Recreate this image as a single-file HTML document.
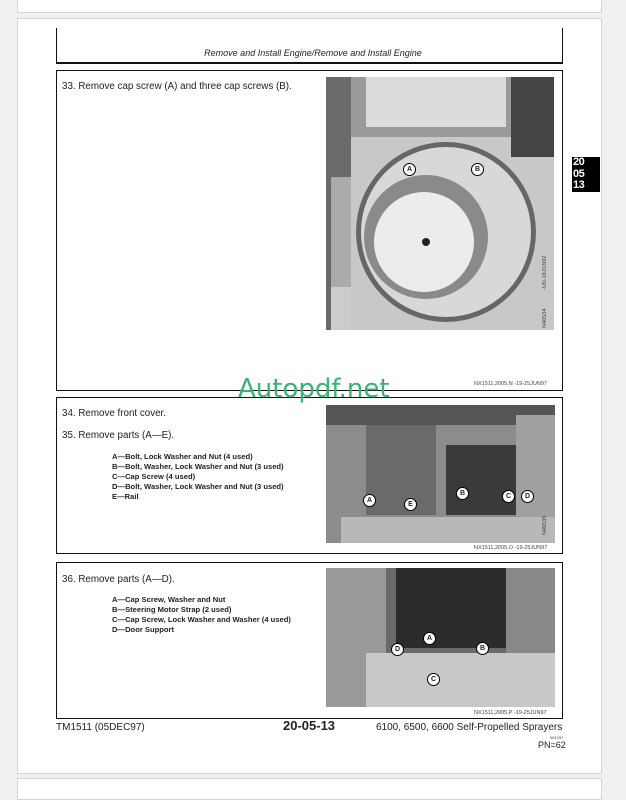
<!DOCTYPE html>
<html><head><style>
body{margin:0;width:626px;height:785px;background:#f1f1f1;position:relative;overflow:hidden;font-family:"Liberation Sans",sans-serif;color:#222}
.a{position:absolute}
.card{position:absolute;background:#fff;border:1px solid #d4d4d4}
.box{position:absolute;border:1.5px solid #111;box-sizing:border-box}
.t{position:absolute;font-size:9.8px;white-space:nowrap}
.b{position:absolute;font-size:7.6px;font-weight:bold;line-height:10px;white-space:nowrap}
.cap{position:absolute;font-size:5.5px;color:#444;white-space:nowrap}
.lbl{position:absolute;width:11px;height:11px;border:1px solid #000;border-radius:50%;background:#fff;font-size:7px;font-weight:bold;text-align:center;line-height:11px}
</style></head><body>
<div class="card" style="left:17px;top:-2px;width:583px;height:13px"></div>
<div class="card" style="left:17px;top:18px;width:583px;height:754px"></div>
<div class="card" style="left:17px;top:778px;width:583px;height:20px"></div>

<div class="a" style="left:56px;top:28px;width:1px;height:35px;background:#111"></div>
<div class="a" style="left:562px;top:28px;width:1px;height:35px;background:#111"></div>
<div class="a" style="left:56px;top:62px;width:507px;height:1.5px;background:#111"></div>
<div class="t" style="left:0;width:626px;text-align:center;top:48px;font-style:italic;font-size:9px">Remove and Install Engine/Remove and Install Engine</div>

<div class="box" style="left:56px;top:70px;width:507px;height:321px"></div>
<div class="t" style="left:62px;top:81px">33. Remove cap screw (A) and three cap screws (B).</div>
<svg class="a" style="left:326px;top:77px" width="228" height="253">
<rect width="228" height="253" fill="#c8c8c8"/>
<rect x="0" y="0" width="25" height="253" fill="#6a6a6a"/>
<rect x="25" y="0" width="160" height="60" fill="#9a9a9a"/>
<rect x="40" y="0" width="140" height="50" fill="#dcdcdc"/>
<rect x="185" y="0" width="43" height="80" fill="#444"/>
<rect x="5" y="100" width="20" height="110" fill="#aaa"/>
<circle cx="120" cy="155" r="90" fill="#666"/>
<circle cx="120" cy="155" r="85" fill="#d8d8d8"/>
<circle cx="100" cy="160" r="62" fill="#8a8a8a"/>
<circle cx="98" cy="165" r="50" fill="#ececec"/>
<circle cx="100" cy="165" r="4" fill="#222"/>
<rect x="5" y="210" width="20" height="43" fill="#ccc"/>
</svg>
<div class="lbl" style="left:403px;top:163px">A</div>
<div class="lbl" style="left:471px;top:163px">B</div>
<div class="cap" style="left:542px;top:290px;transform:rotate(-90deg);transform-origin:left top">-UN-18JUN92</div>
<div class="cap" style="left:542px;top:328px;transform:rotate(-90deg);transform-origin:left top">N46534</div>
<div class="cap" style="left:474px;top:381px">NX1511,2005,N -19-25JUN97</div>

<div class="box" style="left:56px;top:397px;width:507px;height:157px"></div>
<div class="t" style="left:62px;top:408px">34. Remove front cover.</div>
<div class="t" style="left:62px;top:430px">35. Remove parts (A—E).</div>
<div class="b" style="left:112px;top:452px">A—Bolt, Lock Washer and Nut (4 used)<br>B—Bolt, Washer, Lock Washer and Nut (3 used)<br>C—Cap Screw (4 used)<br>D—Bolt, Washer, Lock Washer and Nut (3 used)<br>E—Rail</div>
<svg class="a" style="left:326px;top:405px" width="229" height="138">
<rect width="229" height="138" fill="#8c8c8c"/>
<rect x="0" y="0" width="229" height="20" fill="#555"/>
<rect x="120" y="40" width="70" height="70" fill="#3a3a3a"/>
<rect x="40" y="20" width="70" height="90" fill="#6a6a6a"/>
<rect x="190" y="10" width="39" height="110" fill="#a0a0a0"/>
<rect x="15" y="112" width="214" height="26" fill="#b8b8b8"/>
</svg>
<div class="lbl" style="left:363px;top:494px">A</div>
<div class="lbl" style="left:404px;top:498px">E</div>
<div class="lbl" style="left:456px;top:487px">B</div>
<div class="lbl" style="left:502px;top:490px">C</div>
<div class="lbl" style="left:521px;top:490px">D</div>
<div class="cap" style="left:542px;top:535px;transform:rotate(-90deg);transform-origin:left top">N46535</div>
<div class="cap" style="left:474px;top:545px">NX1511,2005,O -19-25JUN97</div>

<div class="box" style="left:56px;top:562px;width:507px;height:157px"></div>
<div class="t" style="left:62px;top:574px">36. Remove parts (A—D).</div>
<div class="b" style="left:112px;top:595px">A—Cap Screw, Washer and Nut<br>B—Steering Motor Strap (2 used)<br>C—Cap Screw, Lock Washer and Washer (4 used)<br>D—Door Support</div>
<svg class="a" style="left:326px;top:568px" width="229" height="139">
<rect width="229" height="139" fill="#6a6a6a"/>
<rect x="0" y="0" width="60" height="139" fill="#999"/>
<rect x="70" y="0" width="110" height="80" fill="#2c2c2c"/>
<rect x="180" y="0" width="49" height="100" fill="#888"/>
<rect x="40" y="85" width="189" height="54" fill="#c8c8c8"/>
</svg>
<div class="lbl" style="left:423px;top:632px">A</div>
<div class="lbl" style="left:476px;top:642px">B</div>
<div class="lbl" style="left:391px;top:643px">D</div>
<div class="lbl" style="left:427px;top:673px">C</div>
<div class="cap" style="left:474px;top:710px">NX1511,2005,P -19-25JUN97</div>

<div class="a" style="left:572px;top:157px;width:28px;height:35px;background:#000;color:#fff;font-weight:bold;font-size:11px;line-height:11.5px;padding-left:1px;letter-spacing:-0.5px;box-sizing:border-box">20<br>05<br>13</div>

<div class="a" style="left:238px;top:374px;font-size:26px;color:#3cb371;font-family:'DejaVu Sans',sans-serif">Autopdf.net</div>

<div class="t" style="left:56px;top:722px;font-size:10px">TM1511 (05DEC97)</div>
<div class="t" style="left:283px;top:718px;font-size:13px;font-weight:bold">20-05-13</div>
<div class="t" style="left:376px;top:722px;font-size:10px">6100, 6500, 6600 Self-Propelled Sprayers</div>
<div class="cap" style="left:550px;top:735px;font-size:4px">061297</div>
<div class="t" style="left:538px;top:740px;font-size:9px">PN=62</div>
</body></html>
